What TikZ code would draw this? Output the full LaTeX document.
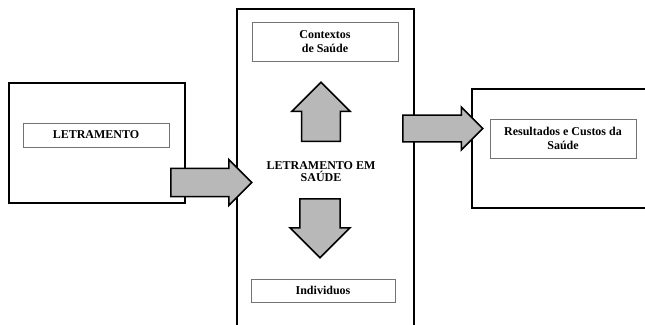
\documentclass[tikz,border=0pt]{standalone}
\usepackage{fontspec}
\setmainfont{Liberation Serif}
\usetikzlibrary{shapes.arrows}

\begin{document}
\begin{tikzpicture}[x=1pt,y=-1pt]
	\tikzset{frame/.style={draw, line width=1.6pt, inner sep=0pt},
		labelbox/.style={draw=black!55, line width=0.7pt, inner sep=0pt, align=center,
			font=\bfseries\fontsize{12}{13.5}\selectfont},
		blockarrow/.style={single arrow, draw, fill=black!28, line width=1.5pt,
			single arrow head indent=0pt, anchor=tail}}

	\clip (0,0) rectangle (645,324);

	% boxes
	\node [frame, minimum width=176pt, minimum height=120pt] (letramento) at (97,143) {};
	\node [frame, minimum width=177pt, minimum height=340pt] (saude) at (325.5,179) {};
	\node [frame, minimum width=190pt, minimum height=119pt] (resultados) at (567,148.5) {};

	% labels
	\node [labelbox, minimum width=146pt, minimum height=24pt] (letramentolabel) at (96,135) {LETRAMENTO};
	\node [labelbox, minimum width=146pt, minimum height=39pt] (contextos) at (325,41.5) {Contextos\\de Saúde};
	\node [labelbox, minimum width=144pt, minimum height=23pt] (individuos) at (323,290.5) {Individuos};
	\node [labelbox, minimum width=146pt, minimum height=39pt] (resultadoslabel) at (563,138.5) {Resultados e Custos da\\Saúde};
	\node [align=center, font=\bfseries\fontsize{12}{12.5}\selectfont] (saudelabel) at (321,171.5) {LETRAMENTO EM\\SAÚDE};

	% block arrows
	\node [blockarrow, minimum height=81pt, minimum width=46pt, inner xsep=0pt, inner ysep=10.5pt] (arrowin) at (170,182.5) {};
	\node [blockarrow, minimum height=80pt, minimum width=43pt, inner xsep=0pt, inner ysep=11pt] (arrowout) at (402,128.5) {};
	\node [blockarrow, minimum height=59pt, minimum width=58pt, inner xsep=13.5pt, inner ysep=0pt, shape border rotate=90] (arrowup) at (321,142) {};
	\node [blockarrow, minimum height=59pt, minimum width=60pt, inner xsep=13.5pt, inner ysep=0pt, shape border rotate=270] (arrowdown) at (320,198) {};
\end{tikzpicture}
\end{document}
